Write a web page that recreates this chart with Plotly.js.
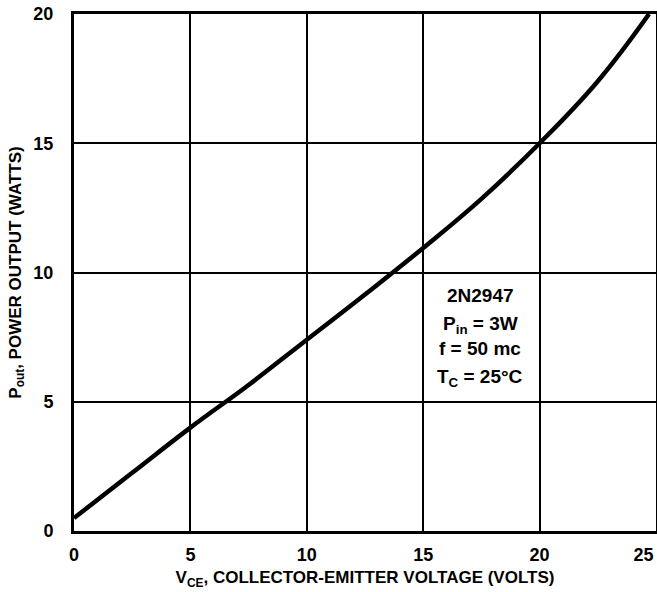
<!DOCTYPE html>
<html><head><meta charset="utf-8">
<script src="https://cdn.plot.ly/plotly-3.0.1.min.js"></script>
<style>body{margin:0;background:#fff}#c{width:657px;height:592px}</style>
</head><body><div id="c"></div>
<script>
const vce = [0, 2.5, 5, 7.5, 10, 12.5, 15, 17.5, 20, 22.5, 24.7];
const pout = [0.5, 2.25, 4.0, 5.65, 7.4, 9.15, 10.95, 12.85, 15.0, 17.4, 20];
const xTicks = [0, 5, 10, 15, 20, 25];
const xTickText = ["0", "5", "10", "15", "20", "25&nbsp;&nbsp;&nbsp;&nbsp;&nbsp;"];
const yTicks = [0, 5, 10, 15, 20];
const noteLines = ["2N2947", "P<sub>in</sub> = 3W", "f = 50 mc", "T<sub>C</sub> = 25°C"];
const noteY = [9.1, 7.95, 7.05, 5.9];

const F = "Liberation Sans Narrow, Arial Narrow, Liberation Sans, Arial, sans-serif";
const annotations = noteLines.map((t, i) => ({
  x: 17.45, y: noteY[i], xref: 'x', yref: 'y', text: '<b>' + t + '</b>', showarrow: false,
  font: {family: F, size: 19, color: '#000'}
}));

Plotly.newPlot('c', [{
  x: vce, y: pout, type: 'scatter', mode: 'lines',
  line: {color: '#000', width: 4.5, shape: 'spline', smoothing: 1.2}, hoverinfo: 'none'
}], {
  width: 657, height: 592,
  margin: {l: 74, r: 1, t: 14, b: 61},
  paper_bgcolor: '#fff', plot_bgcolor: '#fff',
  showlegend: false,
  font: {family: F, color: '#000'},
  xaxis: {
    range: [0, 25], tickvals: xTicks, ticktext: xTickText,
    showgrid: true, gridcolor: '#000', gridwidth: 2,
    showline: true, linecolor: '#000', linewidth: 3, mirror: true,
    zeroline: false, ticks: '', ticklabelstandoff: 5, ticklabeloverflow: 'allow',
    tickfont: {family: F, size: 18, color: '#000', weight: 'bold'},
    title: {text: '<b>V<sub>CE</sub>, COLLECTOR-EMITTER VOLTAGE (VOLTS)</b>', standoff: 8,
      font: {family: F, size: 17, color: '#000'}}
  },
  yaxis: {
    range: [0, 20], tickvals: yTicks, ticktext: yTicks.map(String),
    showgrid: true, gridcolor: '#000', gridwidth: 2,
    showline: true, linecolor: '#000', linewidth: 3, mirror: true,
    zeroline: false, ticks: '', ticklabelstandoff: 14, ticklabeloverflow: 'allow',
    tickfont: {family: F, size: 18, color: '#000', weight: 'bold'},
    title: {text: '<b>P<sub>out</sub>, POWER OUTPUT (WATTS)</b>', standoff: 8,
      font: {family: F, size: 17, color: '#000'}}
  },
  annotations: annotations
}, {staticPlot: true});
</script></body></html>
